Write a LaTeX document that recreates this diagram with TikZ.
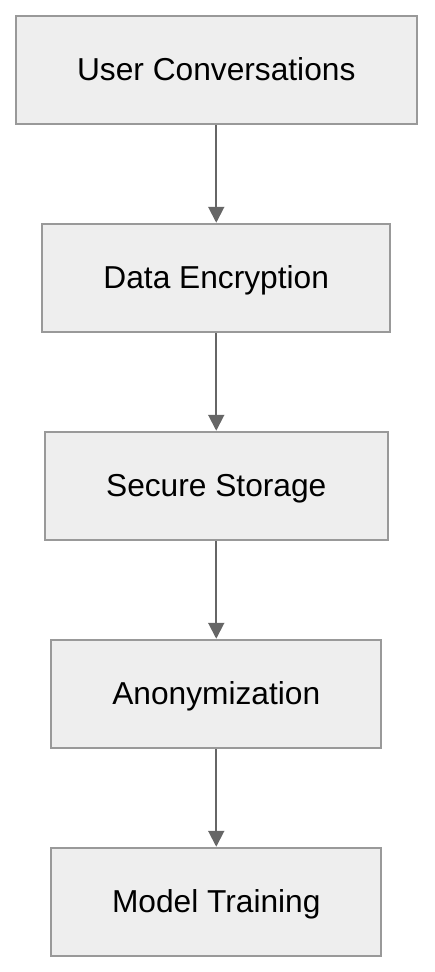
\documentclass[tikz,border=0pt]{standalone}
\usepackage{fontspec}
\setmainfont{Liberation Sans}
\usetikzlibrary{arrows.meta}
\definecolor{boxfill}{HTML}{EEEEEE}
\definecolor{boxline}{HTML}{999999}
\definecolor{arrowcol}{HTML}{666666}
\begin{document}
\begin{tikzpicture}[x=1pt,y=-1pt,
  stage/.style={draw=boxline,line width=2pt,fill=boxfill,inner sep=0pt,
    text height=22.7pt,text depth=2.7pt,
    font=\fontsize{31.7}{38}\selectfont},
  flow/.style={draw=arrowcol,line width=2pt,-{Triangle[length=16pt,width=16pt]}}]
\useasboundingbox (0,0) rectangle (434,972);
\node[stage,minimum width=401.5pt,minimum height=108.5pt] (a) at (216.25,70) {User Conversations};
\node[stage,minimum width=348pt,minimum height=108.5pt] (b) at (216.25,278) {Data Encryption};
\node[stage,minimum width=343pt,minimum height=108.5pt] (c) at (216.25,486) {Secure Storage};
\node[stage,minimum width=330pt,minimum height=108.5pt] (d) at (216.25,694) {Anonymization};
\node[stage,minimum width=330pt,minimum height=108.5pt] (e) at (216.25,902) {Model Training};
\draw[flow] (a) -- (b);
\draw[flow] (b) -- (c);
\draw[flow] (c) -- (d);
\draw[flow] (d) -- (e);
\end{tikzpicture}
\end{document}
